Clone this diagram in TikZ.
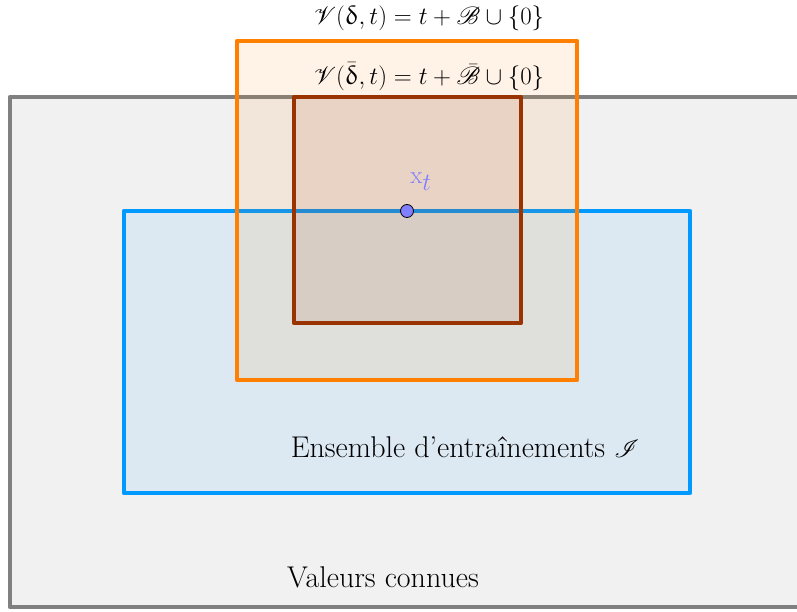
\documentclass[tikz,border=0pt]{standalone}
\usepackage{amsmath}
\usepackage{mathrsfs}
\usepackage{upgreek}
\definecolor{grayline}{RGB}{128,128,128}
\definecolor{grayfill}{RGB}{241,241,241}
\definecolor{blueline}{RGB}{0,153,255}
\definecolor{orangeline}{RGB}{255,128,0}
\definecolor{brownline}{RGB}{153,51,0}
\definecolor{ptcol}{RGB}{128,128,255}
\tikzset{
  region/.style={line width=4.5pt, line join=round},
  lbl/.style={font=\fontsize{27}{32}\selectfont, inner sep=0pt},
  txt/.style={font=\fontsize{30}{34}\selectfont, inner sep=0pt},
}
\begin{document}
\begin{tikzpicture}[x=1pt,y=-1pt]
\useasboundingbox (0,0) rectangle (797,612);
\fill[white] (0,0) rectangle (797,612);
% known values
\draw[region, draw=grayline, fill=grayfill] (10,97) rectangle (810,607);
% training set
\draw[region, draw=blueline, fill=blueline, fill opacity=0.085] (124,211) rectangle (690,493);
% V(delta,t)
\draw[region, draw=orangeline, fill=orangeline, fill opacity=0.09] (237,41) rectangle (577,380);
% V(bar delta,t)
\draw[region, draw=brownline, fill=brownline, fill opacity=0.1] (294,97) rectangle (521,323);
% point
\node[circle, draw=black, fill=ptcol, line width=0.8pt, minimum size=13pt, inner sep=0pt] (xt) at (407,211) {};
\node[inner sep=0pt, text=ptcol, font=\fontsize{38}{42}\selectfont] (xtl) at (421,182) {$\mathrm{x}_t$};
% labels
\node[lbl] (lv) at (429,18) {$\mathscr{V}(\updelta, t) = t + \mathscr{B} \cup \{0\}$};
\node[lbl] (lvb) at (429,77) {$\mathscr{V}(\bar{\updelta}, t) = t + \bar{\mathscr{B}} \cup \{0\}$};
\node[txt] (li) at (465,447) {Ensemble d'entraînements $\mathscr{I}$};
\node[txt] (lk) at (383,577) {Valeurs connues};
\end{tikzpicture}
\end{document}
